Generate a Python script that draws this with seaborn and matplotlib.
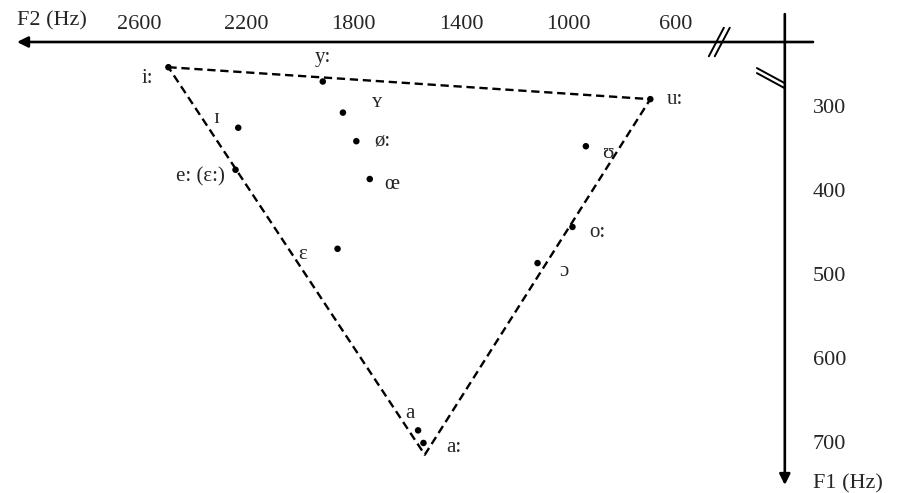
import numpy as np
import pandas as pd
import matplotlib
matplotlib.use("Agg")
import matplotlib.pyplot as plt
import matplotlib.transforms as mtransforms
import seaborn as sns

# vowel formant data (Hz)
vowels = ["i:", "y:", "ʏ", "ɪ", "ø:", "e: (ɛ:)", "œ", "ɛ",
          "u:", "ʊ", "o:", "ɔ", "a", "a:"]
f2_vals = [2490, 1915, 1840, 2230, 1790, 2240, 1740, 1860,
           695, 935, 985, 1115, 1560, 1540]
f1_vals = [254, 271, 308, 326, 342, 376, 387, 470,
           292, 348, 444, 487, 686, 701]

# corners of the dashed vowel triangle
tri_f2 = [2490, 695, 1535, 2490]
tri_f1 = [254, 292, 715, 254]

f2_ticks = [2600, 2200, 1800, 1400, 1000, 600]
f1_ticks = [300, 400, 500, 600, 700]

# label offsets in points (layout only)
label_offsets = [(-15, -8), (0, 17), (25, 7), (-16, 7), (19, 0), (-8, -5),
                 (16, -4), (-25, -4), (12, 0), (16, -5), (18, -4), (19, -6),
                 (-6, 12), (22, -3)]
label_ha = ["center", "center", "center", "center", "center", "right",
            "center", "center", "left", "center", "center", "center",
            "center", "center"]

sns.set_style("white")
plt.rcParams["font.family"] = ["Liberation Serif", "DejaVu Serif"]

df = pd.DataFrame({"vowel": vowels, "F2": f2_vals, "F1": f1_vals})

fig = plt.figure(figsize=(8.99, 4.93), dpi=100)
ax = fig.add_axes([17 / 899, 8 / 493, 796 / 899, 443 / 493])

ax.plot(tri_f2, tri_f1, color="black", lw=1.7, linestyle=(0, (3.5, 2)))
sns.scatterplot(data=df, x="F2", y="F1", color="black", s=22,
                edgecolor="none", ax=ax, zorder=3)

for (v, x, y), off, ha in zip(zip(vowels, f2_vals, f1_vals), label_offsets, label_ha):
    ax.annotate(v, (x, y), xytext=off, textcoords="offset points",
                ha=ha, va="center", fontsize=15)

ax.set_xlim(3054, 89)
ax.set_ylim(751, 224)
for s in ax.spines.values():
    s.set_visible(False)

ax.xaxis.tick_top()
ax.set_xticks(f2_ticks)
ax.set_xticklabels([str(t) for t in f2_ticks], fontsize=16)
ax.yaxis.tick_right()
ax.set_yticks(f1_ticks)
ax.set_yticklabels([str(t) for t in f1_ticks], fontsize=16)
ax.tick_params(axis="x", length=0, pad=6)
ax.tick_params(axis="y", length=0, pad=0)
ax.set_xlabel("")
ax.set_ylabel("")

# horizontal F2 axis with arrow pointing left
ax.annotate("", xy=(0, 1), xytext=(1, 1), xycoords="axes fraction",
            arrowprops=dict(arrowstyle="-|>", color="black", lw=1.9,
                            mutation_scale=16, shrinkA=0, shrinkB=0))
# vertical F1 axis with arrow pointing down
blend = mtransforms.blended_transform_factory(ax.transData, ax.transAxes)
axis_f2 = 194
ax.annotate("", xy=(axis_f2, 0), xytext=(axis_f2, 1.063),
            xycoords=blend, textcoords=blend,
            arrowprops=dict(arrowstyle="-|>", color="black", lw=1.9,
                            mutation_scale=16, shrinkA=0, shrinkB=0))

# axis break marks
for dx in (-11, 11):
    ax.plot([466 + dx, 410 + dx], [241, 207], color="black", lw=1.4,
            clip_on=False)
ax.plot([298, 194], [255, 273], color="black", lw=1.4, clip_on=False)
ax.plot([298, 194], [261, 279], color="black", lw=1.4, clip_on=False)

ax.text(0.0, 1.047, "F2 (Hz)", transform=ax.transAxes, fontsize=16,
        ha="left", va="center")
ax.text(1.0, 0.003, "F1 (Hz)", transform=ax.transAxes, fontsize=16,
        ha="left", va="center")

fig.savefig("out.png", dpi=100)
